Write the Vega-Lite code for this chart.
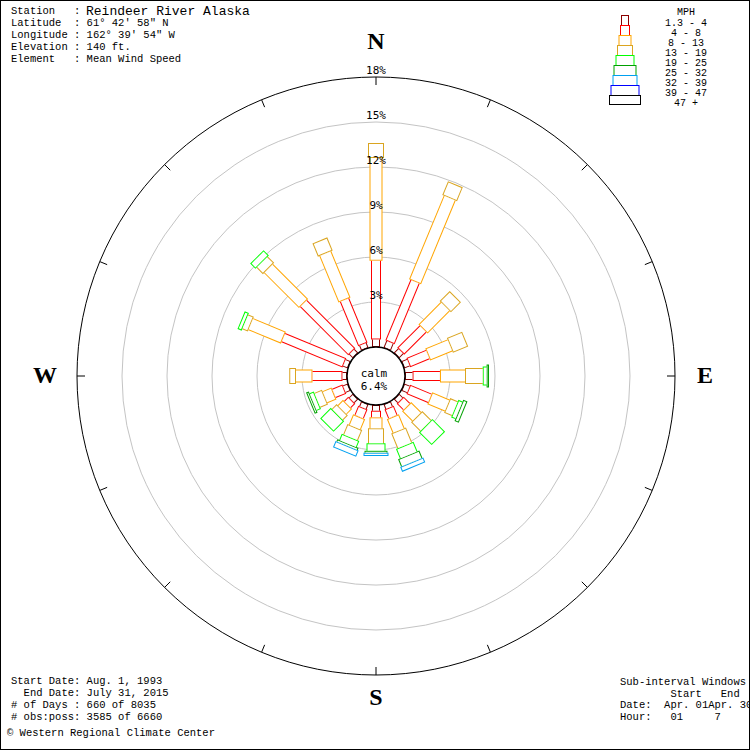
{
  "$schema": "https://vega.github.io/schema/vega-lite/v6.json",
  "width": 750,
  "height": 750,
  "autosize": {"type": "none"},
  "padding": 0,
  "background": "#ffffff",
  "config": {"view": {"stroke": "#000000", "strokeWidth": 2}},
  "resolve": {"scale": {"size": "independent"}},
  "datasets": {
    "classes": [
      {"speed": "1.3 - 4", "k": 1},
      {"speed": "4 - 8", "k": 2},
      {"speed": "8 - 13", "k": 3},
      {"speed": "13 - 19", "k": 4},
      {"speed": "19 - 25", "k": 5},
      {"speed": "25 - 32", "k": 6},
      {"speed": "32 - 39", "k": 7},
      {"speed": "39 - 47", "k": 8},
      {"speed": "47 +", "k": 9}
    ],
    "rings": [{"ring": 3}, {"ring": 6}, {"ring": 9}, {"ring": 12}, {"ring": 15}, {"ring": 18}],
    "rose": [
      {"dir": 0, "speed": "1.3 - 4", "pct": 0.5},
      {"dir": 0, "speed": "4 - 8", "pct": 5.25},
      {"dir": 0, "speed": "8 - 13", "pct": 6.85},
      {"dir": 0, "speed": "13 - 19", "pct": 1.0},
      {"dir": 22.5, "speed": "1.3 - 4", "pct": 0.5},
      {"dir": 22.5, "speed": "4 - 8", "pct": 4.37},
      {"dir": 22.5, "speed": "8 - 13", "pct": 6.03},
      {"dir": 22.5, "speed": "13 - 19", "pct": 1.0},
      {"dir": 45, "speed": "1.3 - 4", "pct": 0.4},
      {"dir": 45, "speed": "4 - 8", "pct": 2.1},
      {"dir": 45, "speed": "8 - 13", "pct": 2.1},
      {"dir": 45, "speed": "13 - 19", "pct": 0.95},
      {"dir": 67.5, "speed": "1.3 - 4", "pct": 0.4},
      {"dir": 67.5, "speed": "4 - 8", "pct": 1.4},
      {"dir": 67.5, "speed": "8 - 13", "pct": 1.6},
      {"dir": 67.5, "speed": "13 - 19", "pct": 1.1},
      {"dir": 90, "speed": "1.3 - 4", "pct": 0.5},
      {"dir": 90, "speed": "4 - 8", "pct": 1.83},
      {"dir": 90, "speed": "8 - 13", "pct": 1.67},
      {"dir": 90, "speed": "13 - 19", "pct": 1.18},
      {"dir": 90, "speed": "19 - 25", "pct": 0.26},
      {"dir": 90, "speed": "25 - 32", "pct": 0.16},
      {"dir": 112.5, "speed": "1.3 - 4", "pct": 0.4},
      {"dir": 112.5, "speed": "4 - 8", "pct": 1.55},
      {"dir": 112.5, "speed": "8 - 13", "pct": 1.25},
      {"dir": 112.5, "speed": "13 - 19", "pct": 0.55},
      {"dir": 112.5, "speed": "19 - 25", "pct": 0.3},
      {"dir": 112.5, "speed": "25 - 32", "pct": 0.3},
      {"dir": 135, "speed": "1.3 - 4", "pct": 0.35},
      {"dir": 135, "speed": "4 - 8", "pct": 0.6},
      {"dir": 135, "speed": "8 - 13", "pct": 0.95},
      {"dir": 135, "speed": "13 - 19", "pct": 0.85},
      {"dir": 135, "speed": "19 - 25", "pct": 1.2},
      {"dir": 157.5, "speed": "1.3 - 4", "pct": 0.35},
      {"dir": 157.5, "speed": "4 - 8", "pct": 0.65},
      {"dir": 157.5, "speed": "8 - 13", "pct": 1.0},
      {"dir": 157.5, "speed": "13 - 19", "pct": 1.07},
      {"dir": 157.5, "speed": "19 - 25", "pct": 0.69},
      {"dir": 157.5, "speed": "25 - 32", "pct": 0.53},
      {"dir": 157.5, "speed": "32 - 39", "pct": 0.35},
      {"dir": 180, "speed": "1.3 - 4", "pct": 0.38},
      {"dir": 180, "speed": "4 - 8", "pct": 0.44},
      {"dir": 180, "speed": "8 - 13", "pct": 0.73},
      {"dir": 180, "speed": "13 - 19", "pct": 1.0},
      {"dir": 180, "speed": "19 - 25", "pct": 0.5},
      {"dir": 180, "speed": "25 - 32", "pct": 0.13},
      {"dir": 180, "speed": "32 - 39", "pct": 0.22},
      {"dir": 202.5, "speed": "1.3 - 4", "pct": 0.35},
      {"dir": 202.5, "speed": "4 - 8", "pct": 0.65},
      {"dir": 202.5, "speed": "8 - 13", "pct": 0.75},
      {"dir": 202.5, "speed": "13 - 19", "pct": 0.75},
      {"dir": 202.5, "speed": "19 - 25", "pct": 0.45},
      {"dir": 202.5, "speed": "25 - 32", "pct": 0.15},
      {"dir": 202.5, "speed": "32 - 39", "pct": 0.45},
      {"dir": 225, "speed": "1.3 - 4", "pct": 0.35},
      {"dir": 225, "speed": "4 - 8", "pct": 0.4},
      {"dir": 225, "speed": "8 - 13", "pct": 0.5},
      {"dir": 225, "speed": "13 - 19", "pct": 0.45},
      {"dir": 225, "speed": "19 - 25", "pct": 1.0},
      {"dir": 247.5, "speed": "1.3 - 4", "pct": 0.35},
      {"dir": 247.5, "speed": "4 - 8", "pct": 0.75},
      {"dir": 247.5, "speed": "8 - 13", "pct": 0.65},
      {"dir": 247.5, "speed": "13 - 19", "pct": 0.55},
      {"dir": 247.5, "speed": "19 - 25", "pct": 0.3},
      {"dir": 247.5, "speed": "25 - 32", "pct": 0.2},
      {"dir": 270, "speed": "1.3 - 4", "pct": 0.3},
      {"dir": 270, "speed": "4 - 8", "pct": 2.0},
      {"dir": 270, "speed": "8 - 13", "pct": 1.1},
      {"dir": 270, "speed": "13 - 19", "pct": 0.45},
      {"dir": 292.5, "speed": "1.3 - 4", "pct": 0.35},
      {"dir": 292.5, "speed": "4 - 8", "pct": 4.4},
      {"dir": 292.5, "speed": "8 - 13", "pct": 2.35},
      {"dir": 292.5, "speed": "13 - 19", "pct": 0.4},
      {"dir": 292.5, "speed": "19 - 25", "pct": 0.3},
      {"dir": 315, "speed": "1.3 - 4", "pct": 0.35},
      {"dir": 315, "speed": "4 - 8", "pct": 4.55},
      {"dir": 315, "speed": "8 - 13", "pct": 3.3},
      {"dir": 315, "speed": "13 - 19", "pct": 0.6},
      {"dir": 315, "speed": "19 - 25", "pct": 0.5},
      {"dir": 337.5, "speed": "1.3 - 4", "pct": 0.35},
      {"dir": 337.5, "speed": "4 - 8", "pct": 3.2},
      {"dir": 337.5, "speed": "8 - 13", "pct": 3.35},
      {"dir": 337.5, "speed": "13 - 19", "pct": 0.95}
    ]
  },
  "layer": [
    {
      "data": {"name": "rings"},
      "transform": [{"calculate": "datum.ring + 29/15", "as": "sz"}],
      "mark": {"type": "point", "shape": "circle", "filled": false, "opacity": 1, "strokeWidth": 1},
      "encoding": {
        "x": {"datum": 0, "type": "quantitative", "scale": {"domain": [-25.0667, 24.9333], "nice": false, "zero": false}, "axis": null},
        "y": {"datum": 0, "type": "quantitative", "scale": {"domain": [-24.9333, 25.0667], "nice": false, "zero": false}, "axis": null},
        "size": {"field": "sz", "type": "quantitative", "legend": null, "scale": {"type": "pow", "exponent": 2, "domain": [0, 19.9333], "range": [0, 357604], "zero": true, "nice": false}},
        "color": {"condition": {"test": "datum.ring == 18", "value": "#000000"}, "value": "#c4c4c4"}
      }
    },
    {
      "data": {"name": "rose"},
      "transform": [
        {"aggregate": [{"op": "count", "as": "n"}], "groupby": ["dir"]},
        {"calculate": "datum.dir * PI / 180", "as": "a"},
        {"calculate": "19.4 * sin(datum.a)", "as": "tx0"},
        {"calculate": "19.4 * cos(datum.a)", "as": "ty0"},
        {"calculate": "(18 + 29/15) * sin(datum.a)", "as": "tx1"},
        {"calculate": "(18 + 29/15) * cos(datum.a)", "as": "ty1"}
      ],
      "mark": {"type": "rule", "color": "#000000", "strokeWidth": 1},
      "encoding": {
        "x": {"field": "tx0", "type": "quantitative", "scale": {"domain": [-25.0667, 24.9333], "nice": false, "zero": false}, "axis": null},
        "y": {"field": "ty0", "type": "quantitative", "scale": {"domain": [-24.9333, 25.0667], "nice": false, "zero": false}, "axis": null},
        "x2": {"field": "tx1"},
        "y2": {"field": "ty1"}
      }
    },
    {
      "data": {"name": "rose"},
      "transform": [
        {"lookup": "speed", "from": {"data": {"name": "classes"}, "key": "speed", "fields": ["k"]}},
        {"stack": "pct", "groupby": ["dir"], "sort": [{"field": "k", "order": "ascending"}], "as": ["p0", "p1"]},
        {"joinaggregate": [{"op": "max", "field": "k", "as": "kmax"}], "groupby": ["dir"]},
        {"calculate": "datum.dir * PI / 180", "as": "a"},
        {"calculate": "datum.p0 + 29/15", "as": "r0"},
        {"calculate": "datum.p1 + 29/15", "as": "r1"},
        {"calculate": "datum.r0 + 1/15", "as": "s0"},
        {"calculate": "datum.k == datum.kmax ? datum.r1 - 1/15 : datum.r1", "as": "s1"},
        {"calculate": "datum.r0 * sin(datum.a)", "as": "x0"},
        {"calculate": "datum.r0 * cos(datum.a)", "as": "y0"},
        {"calculate": "datum.r1 * sin(datum.a)", "as": "x1"},
        {"calculate": "datum.r1 * cos(datum.a)", "as": "y1"},
        {"calculate": "datum.s0 * sin(datum.a)", "as": "u0"},
        {"calculate": "datum.s0 * cos(datum.a)", "as": "v0"},
        {"calculate": "datum.s1 * sin(datum.a)", "as": "u1"},
        {"calculate": "datum.s1 * cos(datum.a)", "as": "v1"}
      ],
      "layer": [
        {
          "mark": {"type": "rule", "strokeCap": "butt"},
          "encoding": {
            "x": {"field": "x0", "type": "quantitative", "scale": {"domain": [-25.0667, 24.9333], "nice": false, "zero": false}, "axis": null},
            "y": {"field": "y0", "type": "quantitative", "scale": {"domain": [-24.9333, 25.0667], "nice": false, "zero": false}, "axis": null},
            "x2": {"field": "x1"},
            "y2": {"field": "y1"},
            "stroke": {"field": "speed", "type": "nominal", "legend": null,
              "scale": {"domain": ["1.3 - 4", "4 - 8", "8 - 13", "13 - 19", "19 - 25", "25 - 32", "32 - 39", "39 - 47", "47 +"],
                        "range": ["#8b0000", "#ff0000", "#ffa500", "#daa520", "#00ff00", "#00a000", "#00a0f0", "#0000ff", "#000000"]}},
            "strokeWidth": {"field": "k", "type": "quantitative", "legend": null,
              "scale": {"domain": [1, 2, 3, 4, 5, 6, 7, 8, 9], "range": [8, 10, 13, 16, 19, 23, 25, 29, 32], "zero": false, "nice": false}}
          }
        },
        {
          "mark": {"type": "rule", "strokeCap": "butt", "color": "#ffffff"},
          "encoding": {
            "x": {"field": "u0", "type": "quantitative", "scale": {"domain": [-25.0667, 24.9333], "nice": false, "zero": false}, "axis": null},
            "y": {"field": "v0", "type": "quantitative", "scale": {"domain": [-24.9333, 25.0667], "nice": false, "zero": false}, "axis": null},
            "x2": {"field": "u1"},
            "y2": {"field": "v1"},
            "size": {"field": "k", "type": "quantitative", "legend": null,
              "scale": {"domain": [1, 2, 3, 4, 5, 6, 7, 8, 9], "range": [6, 8, 11, 14, 17, 21, 23, 27, 30], "zero": false, "nice": false}}
          }
        }
      ]
    },
    {
      "data": {"values": [{"calm": 6.4}]},
      "mark": {"type": "point", "shape": "circle", "filled": true, "fill": "#ffffff", "stroke": "#000000", "strokeWidth": 1.5, "opacity": 1},
      "encoding": {
        "x": {"datum": 0, "type": "quantitative", "scale": {"domain": [-25.0667, 24.9333], "nice": false, "zero": false}, "axis": null},
        "y": {"datum": 0, "type": "quantitative", "scale": {"domain": [-24.9333, 25.0667], "nice": false, "zero": false}, "axis": null},
        "size": {"datum": 1.9333, "type": "quantitative", "legend": null, "scale": {"type": "pow", "exponent": 2, "domain": [0, 19.9333], "range": [0, 357604], "zero": true, "nice": false}}
      }
    },
    {
      "data": {"name": "rings"},
      "transform": [
        {"calculate": "datum.ring + 29/15", "as": "ry"},
        {"calculate": "datum.ring + '%'", "as": "lbl"}
      ],
      "mark": {"type": "text", "align": "center", "baseline": "bottom", "dy": -1, "font": "DejaVu Sans Mono", "fontSize": 11, "color": "#000000"},
      "encoding": {
        "x": {"datum": 0, "type": "quantitative", "scale": {"domain": [-25.0667, 24.9333], "nice": false, "zero": false}, "axis": null},
        "y": {"field": "ry", "type": "quantitative", "scale": {"domain": [-24.9333, 25.0667], "nice": false, "zero": false}, "axis": null},
        "text": {"field": "lbl"}
      }
    },
    {
      "data": {"values": [{"calm": 6.4}]},
      "mark": {"type": "text", "text": ["calm", "6.4%"], "align": "center", "baseline": "middle", "lineHeight": 13, "font": "DejaVu Sans Mono", "fontSize": 11, "color": "#000000"},
      "encoding": {
        "x": {"datum": -0.1333, "type": "quantitative"},
        "y": {"datum": 0.1667, "type": "quantitative"}
      }
    },
    {
      "data": {"values": [{"label": "N"}]},
      "mark": {"type": "text", "align": "center", "baseline": "middle", "font": "Liberation Serif", "fontSize": 24, "fontWeight": "bold", "color": "#000000"},
      "encoding": {"x": {"datum": 0, "type": "quantitative"}, "y": {"datum": 22.267, "type": "quantitative"}, "text": {"field": "label"}}
    },
    {
      "data": {"values": [{"label": "E"}]},
      "mark": {"type": "text", "align": "center", "baseline": "middle", "font": "Liberation Serif", "fontSize": 24, "fontWeight": "bold", "color": "#000000"},
      "encoding": {"x": {"datum": 21.933, "type": "quantitative"}, "y": {"datum": 0, "type": "quantitative"}, "text": {"field": "label"}}
    },
    {
      "data": {"values": [{"label": "S"}]},
      "mark": {"type": "text", "align": "center", "baseline": "middle", "font": "Liberation Serif", "fontSize": 24, "fontWeight": "bold", "color": "#000000"},
      "encoding": {"x": {"datum": 0, "type": "quantitative"}, "y": {"datum": -21.467, "type": "quantitative"}, "text": {"field": "label"}}
    },
    {
      "data": {"values": [{"label": "W"}]},
      "mark": {"type": "text", "align": "center", "baseline": "middle", "font": "Liberation Serif", "fontSize": 24, "fontWeight": "bold", "color": "#000000"},
      "encoding": {"x": {"datum": -22.067, "type": "quantitative"}, "y": {"datum": 0, "type": "quantitative"}, "text": {"field": "label"}}
    },
    {
      "data": {"name": "classes"},
      "transform": [
        {"calculate": "(371 - 10 * datum.k) / 15", "as": "t"},
        {"calculate": "(361 - 10 * datum.k) / 15", "as": "b"},
        {"calculate": "(370 - 10 * datum.k) / 15", "as": "wt"},
        {"calculate": "datum.k == 9 ? (362 - 10 * datum.k) / 15 : (361 - 10 * datum.k) / 15", "as": "wb"},
        {"calculate": "(363.5 - 10 * datum.k) / 15", "as": "ly"}
      ],
      "layer": [
        {
          "mark": {"type": "rule", "strokeCap": "butt"},
          "encoding": {
            "x": {"datum": 16.6, "type": "quantitative"},
            "y": {"field": "t", "type": "quantitative"},
            "y2": {"field": "b"},
            "stroke": {"field": "speed", "type": "nominal", "legend": null},
            "strokeWidth": {"field": "k", "type": "quantitative", "legend": null}
          }
        },
        {
          "mark": {"type": "rule", "strokeCap": "butt", "color": "#ffffff"},
          "encoding": {
            "x": {"datum": 16.6, "type": "quantitative"},
            "y": {"field": "wt", "type": "quantitative"},
            "y2": {"field": "wb"},
            "size": {"field": "k", "type": "quantitative", "legend": null,
              "scale": {"domain": [1, 2, 3, 4, 5, 6, 7, 8, 9], "range": [6, 8, 11, 14, 17, 21, 23, 27, 30], "zero": false, "nice": false}}
          }
        },
        {
          "mark": {"type": "text", "align": "center", "baseline": "middle", "font": "Liberation Mono", "fontSize": 10, "color": "#000000"},
          "encoding": {
            "x": {"datum": 20.667, "type": "quantitative"},
            "y": {"field": "ly", "type": "quantitative"},
            "text": {"field": "speed"}
          }
        }
      ]
    },
    {
      "data": {"values": [{"unit": "MPH"}]},
      "mark": {"type": "text", "align": "center", "baseline": "middle", "font": "Liberation Mono", "fontSize": 10, "color": "#000000"},
      "encoding": {"x": {"datum": 20.667, "type": "quantitative"}, "y": {"datum": 24.3, "type": "quantitative"}, "text": {"field": "unit"}}
    },
    {
      "data": {"values": [{}]},
      "mark": {"type": "text", "text": ["Station\u00a0\u00a0\u00a0:", "Latitude\u00a0\u00a0: 61° 42' 58\" N", "Longitude : 162° 39' 54\" W", "Elevation : 140 ft.", "Element\u00a0\u00a0\u00a0: Mean Wind Speed"], "align": "left", "baseline": "top", "lineHeight": 12, "font": "Liberation Mono", "fontSize": 10.5, "color": "#000000"},
      "encoding": {"x": {"datum": -24.333, "type": "quantitative"}, "y": {"datum": 24.667, "type": "quantitative"}}
    },
    {
      "data": {"values": [{}]},
      "mark": {"type": "text", "text": "Reindeer River Alaska", "align": "left", "baseline": "top", "font": "Liberation Mono", "fontSize": 13, "color": "#000000"},
      "encoding": {"x": {"datum": -19.333, "type": "quantitative"}, "y": {"datum": 24.733, "type": "quantitative"}}
    },
    {
      "data": {"values": [{}]},
      "mark": {"type": "text", "text": ["Start Date: Aug. 1, 1993", "\u200b\u00a0\u00a0End Date: July 31, 2015", "# of Days : 660 of 8035", "# obs:poss: 3585 of 6660"], "align": "left", "baseline": "top", "lineHeight": 12, "font": "Liberation Mono", "fontSize": 10.5, "color": "#000000"},
      "encoding": {"x": {"datum": -24.333, "type": "quantitative"}, "y": {"datum": -20.0, "type": "quantitative"}}
    },
    {
      "data": {"values": [{}]},
      "mark": {"type": "text", "text": "© Western Regional Climate Center", "align": "left", "baseline": "middle", "font": "Liberation Mono", "fontSize": 10.5, "color": "#000000"},
      "encoding": {"x": {"datum": -24.6, "type": "quantitative"}, "y": {"datum": -23.8, "type": "quantitative"}}
    },
    {
      "data": {"values": [{}]},
      "mark": {"type": "text", "text": ["Sub-interval Windows", "\u200b\u00a0\u00a0\u00a0\u00a0\u00a0\u00a0\u00a0\u00a0Start\u00a0\u00a0\u00a0End", "Date:\u00a0\u00a0Apr. 01Apr. 30", "Hour:\u00a0\u00a0\u00a001\u00a0\u00a0\u00a0\u00a0\u00a07"], "align": "left", "baseline": "top", "lineHeight": 11.7, "font": "Liberation Mono", "fontSize": 10.5, "color": "#000000"},
      "encoding": {"x": {"datum": 16.267, "type": "quantitative"}, "y": {"datum": -20.067, "type": "quantitative"}}
    }
  ]
}
